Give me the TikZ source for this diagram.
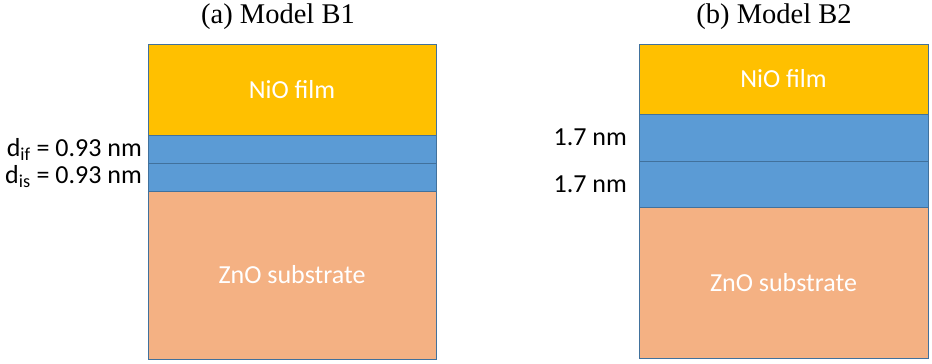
\documentclass[tikz,border=0pt]{standalone}
\usepackage{fontspec}
\setmainfont{Liberation Serif}
\newfontfamily\calfont{Carlito}
\definecolor{nio}{HTML}{FFC000}
\definecolor{blu}{HTML}{5B9BD5}
\definecolor{zno}{HTML}{F4B183}
\definecolor{edge}{HTML}{41719C}
\begin{document}
\begin{tikzpicture}[x=1pt,y=-1pt,
  layer/.style={draw=edge, line width=0.8pt, inner sep=0pt, outer sep=0pt, anchor=north west,
    font=\calfont\fontsize{26}{30}\selectfont, text=white},
  lbl/.style={anchor=east, inner sep=0pt, font=\calfont\fontsize{26}{30}\selectfont},
  ttl/.style={inner sep=0pt, font=\fontsize{28.5}{32}\selectfont}]
\useasboundingbox (0,0) rectangle (932,364);
% titles
\node[ttl] (ta) at (278,17) {(a) Model B1};
\node[ttl] (tb) at (774,17) {(b) Model B2};
% model B1
\node[layer, fill=nio, minimum width=288pt, minimum height=91pt] (a1) at (148,44) {NiO film};
\node[layer, fill=blu, minimum width=288pt, minimum height=28pt] (a2) at (148,135) {};
\node[layer, fill=blu, minimum width=288pt, minimum height=28pt] (a3) at (148,163) {};
\node[layer, fill=zno, minimum width=288pt, minimum height=168pt] (a4) at (148,191) {ZnO substrate};
\node[lbl] (la2) at (142,149) {d\textsubscript{if} = 0.93 nm};
\node[lbl] (la3) at (142,177) {d\textsubscript{is} = 0.93 nm};
% model B2
\node[layer, fill=nio, minimum width=289pt, minimum height=70pt] (b1) at (639,44) {NiO film};
\node[layer, fill=blu, minimum width=289pt, minimum height=47pt] (b2) at (639,114) {};
\node[layer, fill=blu, minimum width=289pt, minimum height=46pt] (b3) at (639,161) {};
\node[layer, fill=zno, minimum width=289pt, minimum height=151pt] (b4) at (639,207) {ZnO substrate};
\node[lbl] (lb2) at (627,137) {1.7 nm};
\node[lbl] (lb3) at (627,184) {1.7 nm};
\end{tikzpicture}
\end{document}
